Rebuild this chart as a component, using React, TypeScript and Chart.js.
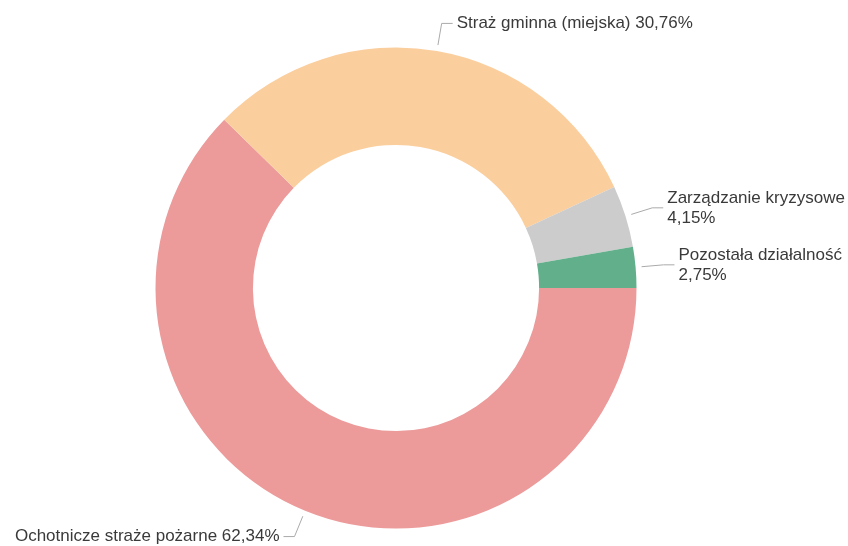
import React, { useEffect, useRef } from "react";
import { Chart, registerables } from "chart.js";

Chart.register(...registerables);

const categories = [
  "Ochotnicze straże pożarne",
  "Straż gminna (miejska)",
  "Zarządzanie kryzysowe",
  "Pozostała działalność",
];
const shares = [62.34, 30.76, 4.15, 2.75];
const colors = ["#EC9A9A", "#FBCE9E", "#CCCCCC", "#62AF8B"];

const FONT = '17px "Liberation Sans", Arial, sans-serif';

function fmt(v: number): string {
  return v.toFixed(2).replace(".", ",") + "%";
}

function wrap(ctx: CanvasRenderingContext2D, text: string, maxW: number): string[] {
  const words = text.split(" ");
  const lines: string[] = [];
  let cur = "";
  for (const w of words) {
    const test = cur ? cur + " " + w : w;
    if (cur && ctx.measureText(test).width > maxW) {
      lines.push(cur);
      cur = w;
    } else {
      cur = test;
    }
  }
  if (cur) lines.push(cur);
  return lines;
}

const leaderPlugin = {
  id: "leaderLabels",
  afterDatasetsDraw(chart: any) {
    const ctx: CanvasRenderingContext2D = chart.ctx;
    const meta = chart.getDatasetMeta(0);
    ctx.save();
    ctx.font = FONT;
    meta.data.forEach((arc: any, i: number) => {
      const { x, y, startAngle, endAngle, outerRadius } = arc.getProps(
        ["x", "y", "startAngle", "endAngle", "outerRadius"],
        true
      );
      const mid = (startAngle + endAngle) / 2;
      const c = Math.cos(mid);
      const s = Math.sin(mid);
      const r1 = outerRadius + 6;
      const r2 = outerRadius + 28;
      const x1 = x + c * r1;
      const y1 = y + s * r1;
      const x2 = x + c * r2;
      const y2 = y + s * r2;
      const right = c >= 0;
      const x3 = x2 + (right ? 11 : -11);
      ctx.strokeStyle = "#AAAAAA";
      ctx.lineWidth = 1;
      ctx.beginPath();
      ctx.moveTo(x1, y1);
      ctx.lineTo(x2, y2);
      ctx.lineTo(x3, y2);
      ctx.stroke();

      const tx = x3 + (right ? 4 : -4);
      const maxW = right ? chart.width - tx + 2 : tx;
      const text = categories[i] + " " + fmt(shares[i]);
      const lines = wrap(ctx, text, maxW);
      const lh = 20;
      ctx.fillStyle = "#3a3a3a";
      ctx.textAlign = right ? "left" : "right";
      ctx.textBaseline = "middle";
      const top = y2 - ((lines.length - 1) * lh) / 2;
      lines.forEach((ln, k) => ctx.fillText(ln, tx, top + k * lh));
    });
    ctx.restore();
  },
};

export default function App() {
  const ref = useRef<HTMLCanvasElement | null>(null);
  useEffect(() => {
    if (!ref.current) return;
    const chart = new Chart(ref.current, {
      type: "doughnut",
      data: {
        labels: categories,
        datasets: [
          {
            data: shares,
            backgroundColor: colors,
            borderWidth: 0,
            hoverOffset: 0,
          },
        ],
      },
      options: {
        responsive: false,
        animation: false,
        events: [],
        rotation: 90,
        cutout: "59.5%",
        layout: { padding: { left: 0, right: 56, top: 47.5, bottom: 17.5 } },
        plugins: {
          legend: { display: false },
          tooltip: { enabled: false },
        },
      },
      plugins: [leaderPlugin],
    });
    return () => chart.destroy();
  }, []);
  return (
    <div style={{ position: "absolute", left: 0, top: 0, width: 848, height: 546, background: "#fff" }}>
      <canvas ref={ref} width={848} height={546} style={{ display: "block" }} />
    </div>
  );
}
